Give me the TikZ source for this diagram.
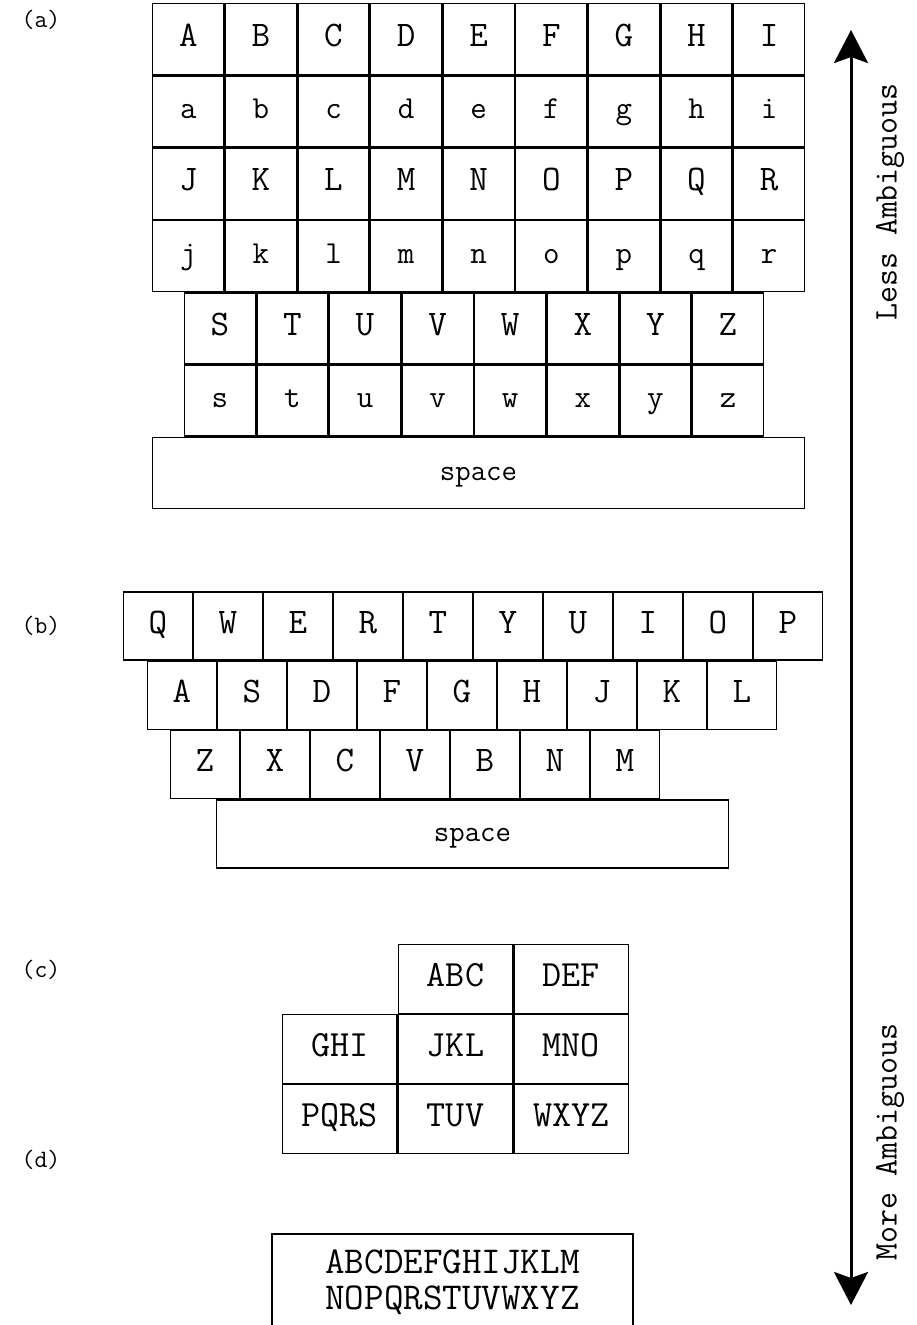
\documentclass[tikz,border=0pt]{standalone}
\usetikzlibrary{arrows.meta}
\tikzset{
  keybox/.style={draw,line width=1.4pt,inner sep=0pt,font=\fontsize{36}{36}\selectfont\ttfamily},
  keytext/.style={keybox,text height=24pt,text depth=10pt},
  keya/.style={keytext,minimum width=71.2pt,minimum height=70.9pt},
  keyb/.style={keytext,minimum width=68.6pt,minimum height=67.9pt},
  keyc/.style={keytext,minimum width=114.3pt,minimum height=68.6pt,font=\fontsize{37}{37}\selectfont\ttfamily},
  spacebar/.style={keytext,font=\fontsize{30}{30}\selectfont\ttfamily},
  panel/.style={font=\fontsize{25}{25}\selectfont\ttfamily},
  sidelabel/.style={rotate=90,font=\fontsize{33}{33}\selectfont\ttfamily}
}
\begin{document}
\begin{tikzpicture}[x=1pt,y=-1pt,line cap=round]
  \useasboundingbox (0,0) rectangle (916,1325);

  % (a) alphabetic layout
  \node[panel] (lab-a) at (41,20) {(a)};
  \foreach \c [count=\i from 0] in {A,B,C,D,E,F,G,H,I}
    \node[keya] (a-\c) at ({188.3+72.6*\i},39.2) {\c};
  \foreach \c [count=\i from 0] in {a,b,c,d,e,f,g,h,i}
    \node[keya] (a-\c) at ({188.3+72.6*\i},111.5) {\fontsize{32}{32}\selectfont\c};
  \foreach \c [count=\i from 0] in {J,K,L,M,N,O,P,Q,R}
    \node[keya] (a-\c) at ({188.3+72.6*\i},183.8) {\c};
  \foreach \c [count=\i from 0] in {j,k,l,m,n,o,p,q,r}
    \node[keya] (a-\c) at ({188.3+72.6*\i},256.1) {\fontsize{32}{32}\selectfont\c};
  \foreach \c [count=\i from 0] in {S,T,U,V,W,X,Y,Z}
    \node[keya] (a-\c) at ({219.8+72.6*\i},328.4) {\c};
  \foreach \c [count=\i from 0] in {s,t,u,v,w,x,y,z}
    \node[keya] (a-\c) at ({219.8+72.6*\i},400.7) {\fontsize{32}{32}\selectfont\c};
  \node[spacebar,minimum width=651.6pt,minimum height=70.9pt] (a-space) at (478.5,473) {space};

  % (b) qwerty layout
  \node[panel] (lab-b) at (41,626) {(b)};
  \foreach \c [count=\i from 0] in {Q,W,E,R,T,Y,U,I,O,P}
    \node[keyb] (b-\c) at ({158+70*\i},626) {\c};
  \foreach \c [count=\i from 0] in {A,S,D,F,G,H,J,K,L}
    \node[keyb] (b-\c) at ({182+70*\i},695.3) {\c};
  \foreach \c [count=\i from 0] in {Z,X,C,V,B,N,M}
    \node[keyb] (b-\c) at ({205+70*\i},764.6) {\c};
  \node[spacebar,minimum width=511.6pt,minimum height=67.9pt] (b-space) at (472.5,834) {space};

  % (c) phone keypad
  \node[panel] (lab-c) at (41,970) {(c)};
  \foreach \t/\x/\y in {ABC/455.5/979,DEF/571.2/979,GHI/339.8/1049,JKL/455.5/1049,MNO/571.2/1049,PQRS/339.8/1119,TUV/455.5/1119,WXYZ/571.2/1119}
    \node[keyc] (c-\t) at (\x,\y) {\t};

  % (d) single key
  \node[panel] (lab-d) at (41,1160) {(d)};
  \node[keybox,minimum width=361pt,minimum height=96pt,align=center,
    font=\fontsize{38}{36.5}\selectfont\ttfamily] (d-all) at (452.5,1282)
    {ABCDEFGHIJKLM\\NOPQRSTUVWXYZ};

  % ambiguity scale
  \coordinate (amb-top) at (851,30);
  \coordinate (amb-bot) at (851,1305);
  \draw[line width=3pt,{Stealth[length=33pt,width=34pt,inset=6pt]}-{Stealth[length=33pt,width=34pt,inset=6pt]}] (amb-top) -- (amb-bot);
  \node[sidelabel] (less) at (890,202) {Less Ambiguous};
  \node[sidelabel] (more) at (890,1142) {More Ambiguous};
\end{tikzpicture}
\end{document}
